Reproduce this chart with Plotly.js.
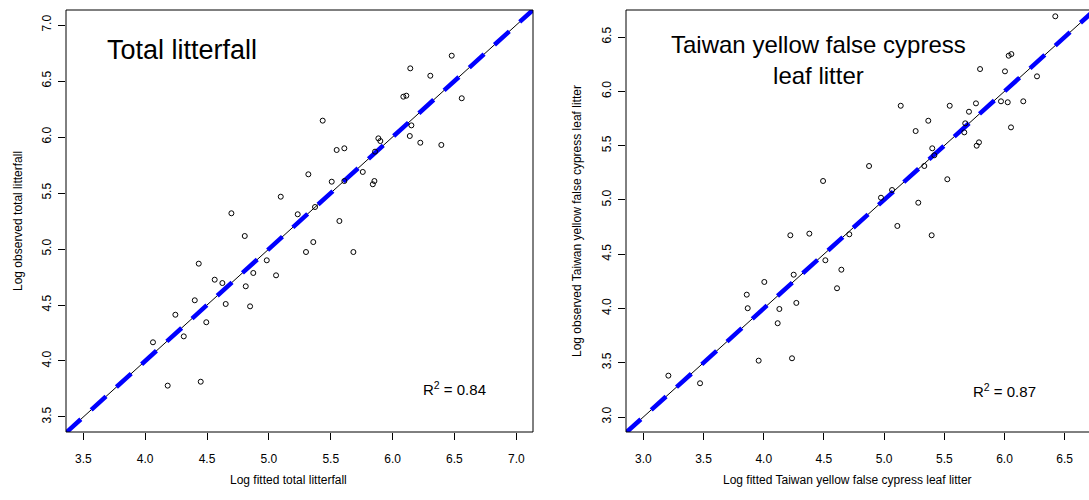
<!DOCTYPE html>
<html>
<head>
<meta charset="utf-8">
<script src="https://cdn.plot.ly/plotly-3.0.1.min.js"></script>
<style>
  html, body { margin: 0; padding: 0; background: #fff; }
  #chart { width: 1089px; height: 500px; }
</style>
</head>
<body>
<div id="chart"></div>
<script>
// Total litterfall: log fitted vs log observed
const totalFitted = [6.478, 6.143, 6.305, 6.559, 6.087, 6.111, 5.435, 6.152, 6.139, 6.224,
  6.394, 5.885, 5.901, 5.548, 5.610, 5.858, 5.319, 5.759, 5.508, 5.610,
  5.853, 5.840, 5.096, 5.373, 5.233, 4.697, 5.570, 4.805, 5.359, 5.300,
  5.683, 4.433, 4.983, 4.874, 5.058, 4.562, 4.624, 4.813, 4.401, 4.651,
  4.848, 4.244, 4.494, 4.312, 4.063, 4.182, 4.449];
const totalObserved = [6.726, 6.613, 6.547, 6.346, 6.360, 6.369, 6.146, 6.104, 6.009, 5.949,
  5.929, 5.988, 5.964, 5.884, 5.899, 5.869, 5.667, 5.688, 5.601, 5.607,
  5.607, 5.578, 5.467, 5.375, 5.310, 5.319, 5.250, 5.116, 5.062, 4.973,
  4.973, 4.869, 4.899, 4.786, 4.765, 4.726, 4.696, 4.667, 4.542, 4.509,
  4.488, 4.413, 4.346, 4.220, 4.167, 3.780, 3.815];

// Taiwan yellow false cypress leaf litter: log fitted vs log observed
const cypressFitted = [6.422, 6.035, 6.057, 5.797, 6.004, 6.270, 5.971, 6.027, 6.156, 5.138,
  5.545, 5.763, 5.705, 5.367, 5.674, 5.262, 5.666, 6.054, 5.400, 5.417,
  5.788, 5.769, 5.334, 4.875, 4.493, 5.525, 4.974, 5.066, 5.284, 5.110,
  5.395, 4.221, 4.379, 4.711, 4.512, 4.645, 4.249, 4.609, 4.005, 3.859,
  3.867, 4.130, 4.271, 4.116, 3.958, 4.235, 3.208, 3.471];
const cypressObserved = [6.691, 6.328, 6.343, 6.205, 6.184, 6.138, 5.908, 5.899, 5.908, 5.867,
  5.867, 5.889, 5.812, 5.729, 5.705, 5.634, 5.622, 5.668, 5.475, 5.411,
  5.530, 5.499, 5.312, 5.312, 5.174, 5.190, 5.020, 5.091, 4.974, 4.760,
  4.674, 4.674, 4.689, 4.683, 4.444, 4.357, 4.311, 4.186, 4.244, 4.127,
  4.002, 3.995, 4.051, 3.864, 3.519, 3.541, 3.381, 3.311];

// Tick values
const totalTicks = [3.5, 4.0, 4.5, 5.0, 5.5, 6.0, 6.5, 7.0];
const cypressTicks = [3.0, 3.5, 4.0, 4.5, 5.0, 5.5, 6.0, 6.5];
const tickText = v => v.toFixed(1);

// Axis ranges
const totalXRange = [3.36, 7.135];
const totalYRange = [3.366, 7.134];
const cypressXRange = [2.856, 6.702];
const cypressYRange = [2.862, 6.749];

// Coefficient of determination shown in each panel
const r2Values = [0.84, 0.87];

// 1:1 line spanning the panel
const oneToOne = r => [Math.min(r[0], r[1]), Math.max(r[0], r[1]) + 0.2];

const FONT = '"Liberation Sans", Arial, Helvetica, sans-serif';

function panelTraces(fx, obs, xr, xa, ya) {
  const line = oneToOne(xr);
  return [
    { x: line, y: line, xaxis: xa, yaxis: ya, mode: 'lines',
      line: { color: '#000000', width: 1 }, hoverinfo: 'skip' },
    { x: line, y: line, xaxis: xa, yaxis: ya, mode: 'lines',
      line: { color: '#0000FF', width: 4.5, dash: '20px,14px' }, hoverinfo: 'skip' },
    { x: fx, y: obs, xaxis: xa, yaxis: ya, mode: 'markers',
      marker: { symbol: 'circle-open', size: 5, color: '#000000', line: { width: 1, color: '#000000' } },
      cliponaxis: false }
  ];
}

const data = [
  ...panelTraces(totalFitted, totalObserved, totalXRange, 'x', 'y'),
  ...panelTraces(cypressFitted, cypressObserved, cypressXRange, 'x2', 'y2')
];

const W = 1089, H = 500;
const leftDom = [66 / W, 533 / W];
const rightDom = [626 / W, 1.0];
const yDom = [1 - 432 / H, 1 - 10 / H];

function axisStyle(extra) {
  return Object.assign({
    showgrid: false, zeroline: false, showline: false,
    ticks: 'outside', ticklen: 7, tickwidth: 1, tickcolor: '#000000',
    tickfont: { family: FONT, size: 12, color: '#000000' },
    fixedrange: true
  }, extra);
}

const layout = {
  width: W, height: H,
  margin: { l: 0, r: 0, t: 0, b: 0 },
  paper_bgcolor: '#ffffff', plot_bgcolor: '#ffffff',
  showlegend: false,
  font: { family: FONT, color: '#000000' },
  xaxis: axisStyle({ domain: leftDom, range: totalXRange, anchor: 'y',
    tickvals: totalTicks, ticktext: totalTicks.map(tickText), ticklabelstandoff: 9 }),
  yaxis: axisStyle({ domain: yDom, range: totalYRange, anchor: 'x',
    tickvals: totalTicks, ticktext: totalTicks.map(tickText), tickangle: -90, ticklabelstandoff: 2 }),
  xaxis2: axisStyle({ domain: rightDom, range: cypressXRange, anchor: 'y2',
    tickvals: cypressTicks, ticktext: cypressTicks.map(tickText), ticklabelstandoff: 9 }),
  yaxis2: axisStyle({ domain: yDom, range: cypressYRange, anchor: 'x2',
    tickvals: cypressTicks, ticktext: cypressTicks.map(tickText), tickangle: -90, ticklabelstandoff: 2 }),
  shapes: [
    { type: 'rect', xref: 'paper', yref: 'paper', x0: leftDom[0], x1: leftDom[1], y0: yDom[0], y1: yDom[1],
      line: { color: '#000000', width: 1 }, fillcolor: 'rgba(0,0,0,0)', layer: 'above' },
    { type: 'rect', xref: 'paper', yref: 'paper', x0: rightDom[0], x1: 1.02, y0: yDom[0], y1: yDom[1],
      line: { color: '#000000', width: 1 }, fillcolor: 'rgba(0,0,0,0)', layer: 'above' }
  ],
  annotations: [
    { text: 'Total litterfall', xref: 'paper', yref: 'paper', x: 181.5 / W, y: 1 - 50 / H,
      xanchor: 'center', yanchor: 'middle', showarrow: false,
      font: { family: FONT, size: 27, color: '#000000' } },
    { text: 'Taiwan yellow false cypress<br>leaf litter', xref: 'paper', yref: 'paper', x: 818 / W, y: 1 - 60 / H,
      xanchor: 'center', yanchor: 'middle', showarrow: false, align: 'center',
      font: { family: FONT, size: 24, color: '#000000' } },
    { text: 'R<sup>2</sup> = ' + r2Values[0].toFixed(2), xref: 'paper', yref: 'paper', x: 454 / W, y: 1 - 388 / H,
      xanchor: 'center', yanchor: 'middle', showarrow: false,
      font: { family: FONT, size: 15, color: '#000000' } },
    { text: 'R<sup>2</sup> = ' + r2Values[1].toFixed(2), xref: 'paper', yref: 'paper', x: 1004 / W, y: 1 - 390 / H,
      xanchor: 'center', yanchor: 'middle', showarrow: false,
      font: { family: FONT, size: 15, color: '#000000' } },
    { text: 'Log fitted total litterfall', xref: 'paper', yref: 'paper', x: 288 / W, y: 1 - 480 / H,
      xanchor: 'center', yanchor: 'middle', showarrow: false,
      font: { family: FONT, size: 12, color: '#000000' } },
    { text: 'Log fitted Taiwan yellow false cypress leaf litter', xref: 'paper', yref: 'paper', x: 847.5 / W, y: 1 - 480 / H,
      xanchor: 'center', yanchor: 'middle', showarrow: false,
      font: { family: FONT, size: 12, color: '#000000' } },
    { text: 'Log observed total litterfall', xref: 'paper', yref: 'paper', x: 18 / W, y: 1 - 221 / H,
      xanchor: 'center', yanchor: 'middle', showarrow: false, textangle: -90,
      font: { family: FONT, size: 12, color: '#000000' } },
    { text: 'Log observed Taiwan yellow false cypress leaf litter', xref: 'paper', yref: 'paper', x: 577 / W, y: 1 - 221 / H,
      xanchor: 'center', yanchor: 'middle', showarrow: false, textangle: -90,
      font: { family: FONT, size: 12, color: '#000000' } }
  ]
};

Plotly.newPlot('chart', data, layout, { displayModeBar: false, staticPlot: true });
</script>
</body>
</html>
